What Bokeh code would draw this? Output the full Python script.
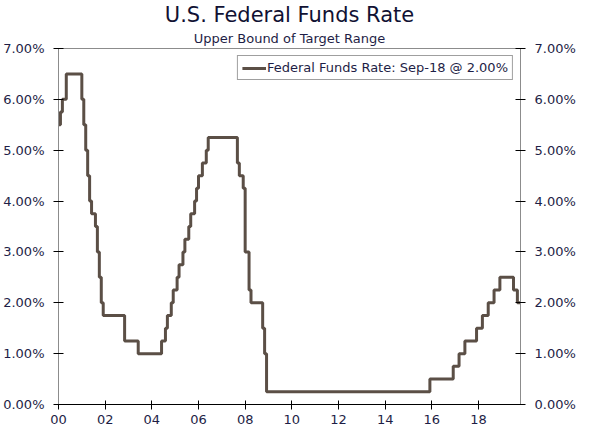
import pandas as pd
from bokeh.plotting import figure
from bokeh.models import (Range1d, LinearAxis, PrintfTickFormatter, FixedTicker,
                          Title, Legend, LegendItem)
from bokeh.embed import file_html
from bokeh.resources import INLINE

# ---- data (monthly, month in which the target upper bound changed) ----
change_months = [
    "2000-01", "2000-02", "2000-03", "2000-05", "2001-01", "2001-02", "2001-03",
    "2001-04", "2001-05", "2001-06", "2001-08", "2001-09", "2001-10", "2001-11",
    "2001-12", "2002-11", "2003-06", "2004-06", "2004-08", "2004-09", "2004-11",
    "2004-12", "2005-02", "2005-03", "2005-05", "2005-06", "2005-08", "2005-09",
    "2005-11", "2005-12", "2006-01", "2006-03", "2006-05", "2006-06", "2007-09",
    "2007-10", "2007-12", "2008-01", "2008-03", "2008-04", "2008-10", "2008-11",
    "2008-12", "2015-12", "2016-12", "2017-03", "2017-06", "2017-12", "2018-03",
    "2018-06", "2018-09", "2018-12", "2019-07", "2019-09", "2019-11",
]
rate_upper = [
    5.50, 5.75, 6.00, 6.50, 6.00, 5.50, 5.00,
    4.50, 4.00, 3.75, 3.50, 3.00, 2.50, 2.00,
    1.75, 1.25, 1.00, 1.25, 1.50, 1.75, 2.00,
    2.25, 2.50, 2.75, 3.00, 3.25, 3.50, 3.75,
    4.00, 4.25, 4.50, 4.75, 5.00, 5.25, 4.75,
    4.50, 4.25, 3.00, 2.25, 2.00, 1.50, 1.00,
    0.25, 0.50, 0.75, 1.00, 1.25, 1.50, 1.75,
    2.00, 2.25, 2.50, 2.25, 2.00, 2.00,
]
x_ticks = [2000, 2002, 2004, 2006, 2008, 2010, 2012, 2014, 2016, 2018]
x_tick_labels = ["00", "02", "04", "06", "08", "10", "12", "14", "16", "18"]
y_ticks = [0, 1, 2, 3, 4, 5, 6, 7]
legend_label = "Federal Funds Rate: Sep-18 @ 2.00%"
title_text = "U.S. Federal Funds Rate"
subtitle_text = "Upper Bound of Target Range"

dt = pd.to_datetime(change_months, format="%Y-%m")
xs = list(dt.year + (dt.month - 1) / 12.0)

FONT = "DejaVu Sans"
TXT = "#1e1e46"
LINE = "#5b4f46"

p = figure(width=584, height=432, output_backend="svg", toolbar_location=None,
           x_range=Range1d(2000, 2019.8), y_range=Range1d(0, 7),
           min_border_left=56, min_border_right=64, min_border_top=46,
           min_border_bottom=28, background_fill_color="white",
           border_fill_color="white")
p.grid.visible = False
p.outline_line_color = "#8c8c8c"
p.outline_line_width = 1

sub = Title(text=subtitle_text, align="center", text_font=FONT,
            text_font_size="13px", text_font_style="normal",
            text_color=TXT, standoff=5, offset=2)
main = Title(text=title_text, align="center", text_font=FONT,
             text_font_size="21px", text_font_style="normal",
             text_color="#111133", standoff=0, offset=2)
p.add_layout(sub, "above")
p.add_layout(main, "above")

r = p.step(xs, rate_upper, mode="after", line_color=LINE, line_width=3)

# axes
def style(ax, line_color):
    ax.axis_line_color = line_color
    ax.major_tick_line_color = "#000000"
    ax.major_tick_in = 5
    ax.major_tick_out = 5
    ax.minor_tick_line_color = None
    ax.major_label_text_font = FONT
    ax.major_label_text_font_size = "13px"
    ax.major_label_text_color = TXT

xa = p.xaxis[0]
xa.ticker = FixedTicker(ticks=x_ticks)
xa.major_label_overrides = {t: l for t, l in zip(x_ticks, x_tick_labels)}
style(xa, "#000000")
xa.major_label_standoff = 5
xa.major_tick_in = 4

ya = p.yaxis[0]
ya.ticker = FixedTicker(ticks=y_ticks)
ya.formatter = PrintfTickFormatter(format="%.2f%%")
style(ya, "#8c8c8c")
ya.major_label_standoff = 9

yr = LinearAxis(ticker=FixedTicker(ticks=y_ticks),
                formatter=PrintfTickFormatter(format="%.2f%%"))
style(yr, "#8c8c8c")
yr.major_label_standoff = 9
p.add_layout(yr, "right")

legend = Legend(items=[LegendItem(label=legend_label, renderers=[r])],
                location="top_right", margin=7, padding=4, spacing=0,
                glyph_width=24, glyph_height=14, label_height=14,
                label_standoff=1, label_text_font=FONT,
                label_text_font_size="13px", label_text_color=TXT,
                border_line_color="#404040", border_line_width=1,
                background_fill_color="white", background_fill_alpha=1)
p.add_layout(legend, "center")

open("out.html", "w").write(file_html(p, INLINE))
